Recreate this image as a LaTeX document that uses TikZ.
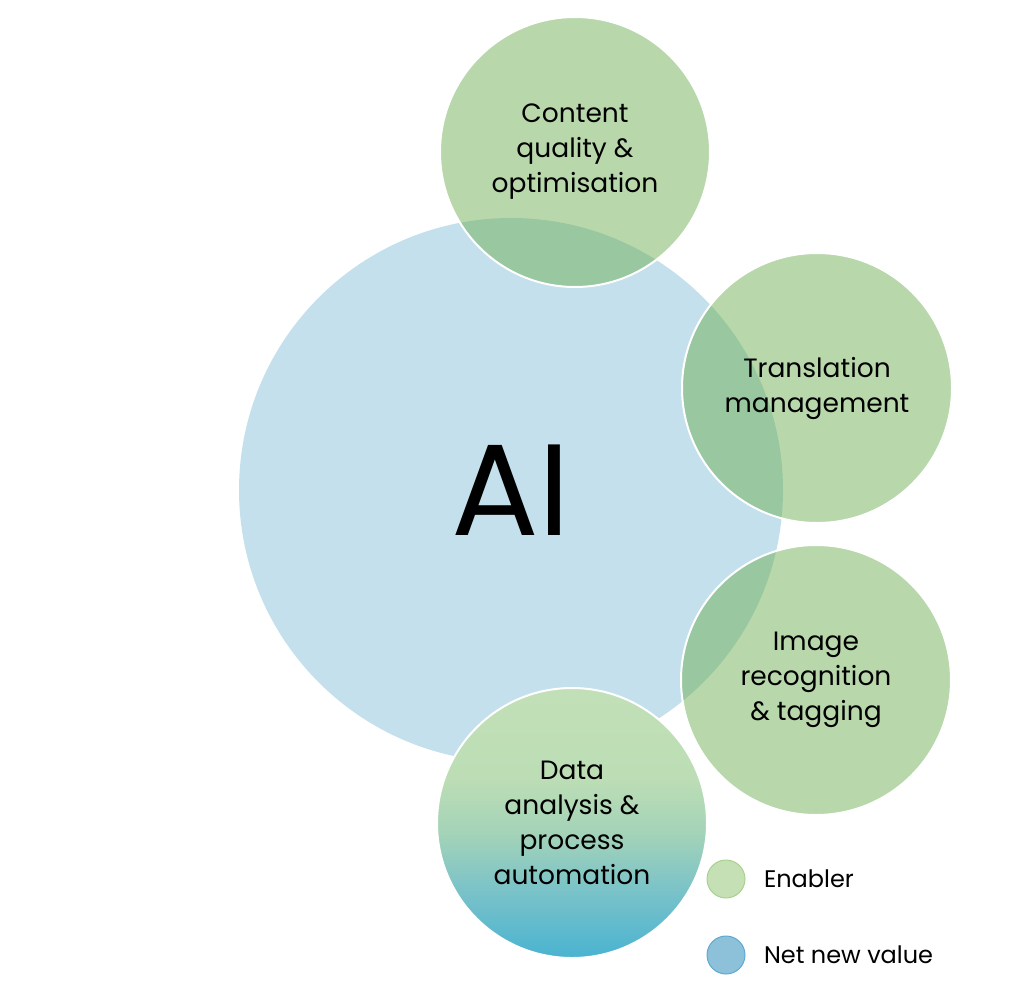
\documentclass[tikz,border=0pt]{standalone}
\usepackage{fontspec}
\setmainfont{Poppins}
\usepackage{tikz}
\usetikzlibrary{positioning}
\definecolor{aiblue}{HTML}{C4E0EC}
\definecolor{enabgreen}{HTML}{6AAD4F}
\definecolor{legreen}{HTML}{C5E0B4}
\definecolor{legreenline}{HTML}{A9D18E}
\definecolor{leblue}{HTML}{8DC1DA}
\definecolor{leblueline}{HTML}{5EA9D2}
\definecolor{shbot}{HTML}{4AB3D1}
\definecolor{shlow}{HTML}{7CC3C8}
\definecolor{shmid}{HTML}{A3D3B8}
\definecolor{shupp}{HTML}{BCDDB5}
\definecolor{shtop}{HTML}{C2E0B8}
\pgfdeclareverticalshading{datashade}{100bp}{color(0bp)=(shbot); color(25bp)=(shbot);
  color(38bp)=(shlow); color(48bp)=(shmid); color(58bp)=(shupp); color(75bp)=(shtop);
  color(100bp)=(shtop)}
\tikzset{bubble/.style = {circle, draw = white, line width = 2, inner sep = 0,
                          minimum size = 270, align = center,
                          font = \fontsize{26.5}{35}\selectfont}}
\tikzset{enabler/.style = {bubble, fill = enabgreen, fill opacity = 0.48, text opacity = 1}}
\tikzset{legdot/.style = {circle, inner sep = 0, minimum size = 38, line width = 1}}
\tikzset{legtext/.style = {font = \fontsize{24}{30}\selectfont, anchor = west}}

\begin{document}
\begin{tikzpicture}[x=1pt, y=-1pt]
    \useasboundingbox (0, 0) rectangle (1024, 993);
    \node [circle, fill = aiblue, inner sep = 0, minimum size = 544,
           font = \fontsize{130}{130}\selectfont] (ai) at (511, 490) {AI};

    \node [enabler] (content) at (575, 152) {Content\\quality \&\\optimisation};
    \node [enabler] (transl) at (817, 388) {Translation\\management};
    \node [enabler] (image) at (816, 680) {Image\\recognition\\\& tagging};
    \node [bubble, shading = datashade] (data) at (572, 823)
          {Data\\analysis \&\\process\\automation};

    \node [legdot, fill = legreen, draw = legreenline] (enabdot) at (726, 879) {};
    \node [legdot, fill = leblue, draw = leblueline, below = 37pt of enabdot] (netdot) {};
    \node [legtext, right = 15pt of enabdot] (enab) {Enabler};
    \node [legtext, right = 15pt of netdot] (net) {Net new value};
  \end{tikzpicture}
\end{document}
